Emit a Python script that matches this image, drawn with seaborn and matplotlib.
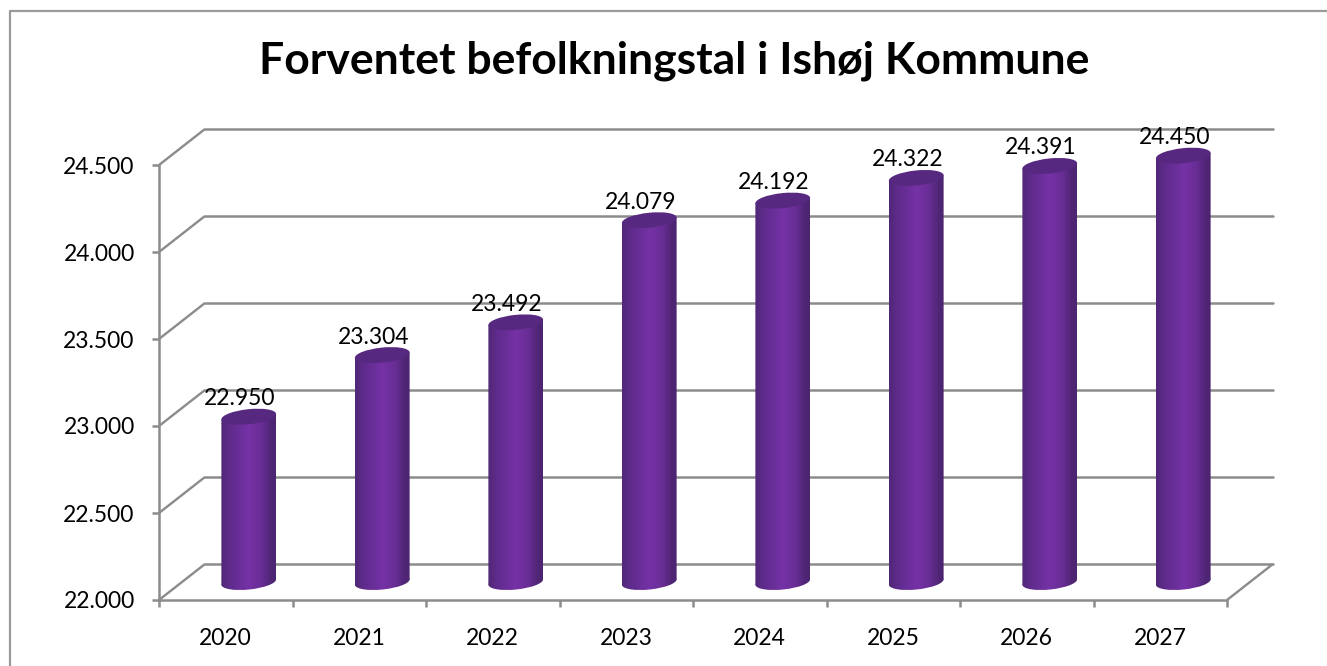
import numpy as np
import pandas as pd
import matplotlib
matplotlib.use('Agg')
import matplotlib.pyplot as plt
import seaborn as sns
from matplotlib.colors import LinearSegmentedColormap
from matplotlib.lines import Line2D
from matplotlib.patches import Ellipse, Polygon
from matplotlib.transforms import IdentityTransform

years = ['2020', '2021', '2022', '2023', '2024', '2025', '2026', '2027']
population = [22950, 23304, 23492, 24079, 24192, 24322, 24391, 24450]
y_ticks = [22000, 22500, 23000, 23500, 24000, 24500]
y_labels = ['22.000', '22.500', '23.000', '23.500', '24.000', '24.500']
value_labels = ['22.950', '23.304', '23.492', '24.079', '24.192', '24.322', '24.391', '24.450']

W, H = 1327, 666
GREY = '#8c8c8c'
X0, X1, Y0, Y1 = 159, 1227, 600, 165  # front plane in pixels, top-down y
px_per_unit = (Y0 - Y1) / 2500

sns.set_theme(style='white')
plt.rcParams['font.family'] = ['Lato', 'DejaVu Sans']

fig = plt.figure(figsize=(W / 100, H / 100), dpi=100, facecolor='white')


def make_axes(dx, dy, extra_bottom=0):
    left = (X0 + dx) / W
    bottom = (H - Y0 + dy - extra_bottom) / H
    a = fig.add_axes([left, bottom, (X1 - X0) / W, (Y0 - Y1 + extra_bottom) / H])
    a.set_facecolor('none')
    a.set_xlim(-0.5, 7.5)
    a.set_ylim(22000 - extra_bottom / px_per_unit, 24500)
    return a


def line_px(xs, ys, lw=2.4, **kw):
    fig.add_artist(Line2D(xs, [H - v for v in ys], transform=IdentityTransform(),
                          color=GREY, lw=lw * 0.72, solid_capstyle='butt', **kw))


# outer frame
fig.add_artist(Line2D([9.5, 9.5, 1327], [0, H - 10.5, H - 10.5],
                      transform=IdentityTransform(), color='#9a9a9a', lw=1.6))

# back wall with gridlines
back = make_axes(46, 36)
back.set_yticks(y_ticks)
back.set_xticks([])
back.set_yticklabels([])
back.grid(axis='y', color=GREY, lw=1.8, clip_on=False)
back.tick_params(left=False, labelleft=False)
sns.despine(ax=back, left=True, bottom=True)
for g in back.get_ygridlines():
    g.set_clip_on(False)

# front axis with ticks and labels
front = make_axes(0, 0)
front.set_xticks(np.arange(8))
front.set_xticklabels(years, fontsize=16.5, color='black')
front.set_yticks(y_ticks)
front.set_yticklabels(y_labels, fontsize=16.5, color='black')
front.tick_params(axis='x', length=0, pad=20)
front.tick_params(axis='y', length=5, width=1.8, color=GREY, left=True, pad=12.5)
front.set_xticks(np.arange(-0.5, 8, 1), minor=True)
front.tick_params(axis='x', which='minor', length=5, width=1.8, color=GREY, bottom=True)
sns.despine(ax=front, top=True, right=True)
for side in ['left', 'bottom']:
    front.spines[side].set_color(GREY)
    front.spines[side].set_linewidth(1.8)

# depth lines joining the front plane to the back wall
for t in y_ticks:
    y = Y0 - (t - 22000) * px_per_unit
    line_px([X0, X0 + 46], [y, y - 36])
line_px([X1, X1 + 46], [Y0, Y0 - 36])

# cylinders
bars_ax = make_axes(23, 18, extra_bottom=25)
bars_ax.axis('off')
df = pd.DataFrame({'year': years, 'population': population})
sns.barplot(data=df, x='year', y='population', color='#7030a0', width=0.41,
            saturation=1, ax=bars_ax)
low = 22000 - 25 / px_per_unit
bars_ax.set_xlim(-0.5, 7.5)
bars_ax.set_ylim(low, 24500)

cylinder = LinearSegmentedColormap.from_list('cyl', [
    (0.0, '#502877'), (0.15, '#5e2b8b'), (0.5, '#7532a6'),
    (0.72, '#6a2e97'), (0.92, '#4e2574'), (1.0, '#4c2672')])
shade = np.linspace(0, 1, 128).reshape(1, -1)
ELL_H = 15
TILT = np.radians(6)

for bar, value, label in zip(bars_ax.patches, population, value_labels):
    x, w = bar.get_x(), bar.get_width()
    bar.set_visible(False)
    cx, cy_base = bars_ax.transData.transform((x + w / 2, 22000))
    _, cy_top = bars_ax.transData.transform((x + w / 2, value))
    half = w * (X1 - X0) / 8 / 2

    # semi-axis so the tilted ellipse is exactly as wide as the bar
    b = ELL_H / 2
    a = np.sqrt((half ** 2 - (b * np.sin(TILT)) ** 2) / np.cos(TILT) ** 2)
    lift = (a ** 2 - b ** 2) * np.sin(TILT) * np.cos(TILT) / half

    base = Ellipse((cx, cy_base), 2 * a, ELL_H, angle=np.degrees(TILT),
                   transform=IdentityTransform())
    img = bars_ax.imshow(shade, cmap=cylinder, aspect='auto', zorder=3,
                         extent=(x, x + w, low, 24500))
    img.set_clip_path(base.get_path(), base.get_patch_transform())

    side = Polygon([(cx - half, cy_base - lift), (cx + half, cy_base + lift),
                    (cx + half, cy_top + lift), (cx - half, cy_top - lift)], closed=True,
                   transform=IdentityTransform())
    img = bars_ax.imshow(shade, cmap=cylinder, aspect='auto', zorder=3,
                         extent=(x, x + w, low, 24500))
    img.set_clip_path(side.get_path(), side.get_transform())

    bars_ax.add_patch(Ellipse((cx, cy_top), 2 * a, ELL_H, angle=np.degrees(TILT),
                              facecolor='#57287f', edgecolor='none',
                              transform=IdentityTransform(), zorder=4))
    fig.text((cx - 9) / W, (cy_top + 18) / H, label, fontsize=16.5, color='black',
             ha='center', va='center', zorder=6)

bars_ax.set_xlim(-0.5, 7.5)
bars_ax.set_ylim(low, 24500)

fig.text(674 / W, (H - 61) / H, 'Forventet befolkningstal i Ishøj Kommune',
         fontsize=32, fontweight='bold', color='black', ha='center', va='center')

fig.savefig('out.png', dpi=100)
